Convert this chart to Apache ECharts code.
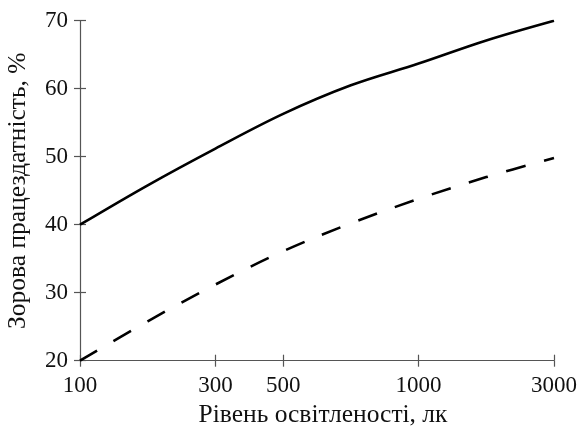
<!DOCTYPE html>
<html>
<head>
<meta charset="utf-8">
<script src="https://cdn.jsdelivr.net/npm/echarts@6/dist/echarts.min.js"></script>
<style>
html,body{margin:0;padding:0;background:#fff;}
#c{width:582px;height:428px;}
</style>
</head>
<body>
<div id="c"></div>
<script>
// Illumination levels (lx); only some carry labels
const categories = ['100', '200', '300', '500', '700', '1000', '2000', '3000'];
const shownLabels = ['100', '300', '500', '1000', '3000'];
// Visual performance, %
const solidSeries = [40, 45.8, 51.2, 56.3, 60.5, 63.7, 67.1, 70];
const dashedSeries = [20, 25.8, 31.2, 36.1, 40.2, 43.8, 47.0, 49.8];
const yMin = 20, yMax = 70, yStep = 10;

const FONT = '"Liberation Serif", "DejaVu Serif", serif';
const TEXT = '#111';
const AXIS = '#555';
const showIdx = (i) => shownLabels.indexOf(categories[i]) >= 0;

const chart = echarts.init(document.getElementById('c'), null, {renderer: 'canvas'});
chart.setOption({
  backgroundColor: '#fff',
  animation: false,
  grid: {left: 80, right: 28, top: 20.7, bottom: 67.3, containLabel: false, outerBoundsMode: 'none'},
  xAxis: [{
    type: 'category',
    data: categories,
    boundaryGap: false,
    name: 'Рівень освітленості, лк',
    nameLocation: 'middle',
    nameGap: 39,
    nameTextStyle: {fontFamily: FONT, fontSize: 25.5, color: TEXT, padding: [0, 0, 0, 12]},
    axisLine: {lineStyle: {color: AXIS, width: 1.2}},
    axisTick: {show: true, inside: false, length: 6, interval: (i) => showIdx(i), lineStyle: {color: AXIS, width: 1.2}},
    axisLabel: {interval: (i) => showIdx(i), margin: 14, fontFamily: FONT, fontSize: 23, color: TEXT},
    splitLine: {show: false}
  }, {
    type: 'category',
    data: categories,
    boundaryGap: false,
    position: 'bottom',
    axisLine: {show: false},
    axisTick: {show: true, inside: true, length: 6, interval: (i) => showIdx(i), lineStyle: {color: AXIS, width: 1.2}},
    axisLabel: {show: false},
    splitLine: {show: false}
  }],
  yAxis: [{
    type: 'value',
    min: yMin, max: yMax, interval: yStep,
    name: 'Зорова працездатність, %',
    nameLocation: 'middle',
    nameGap: 49,
    nameTextStyle: {fontFamily: FONT, fontSize: 25.5, color: TEXT},
    axisLine: {show: true, lineStyle: {color: AXIS, width: 1.2}},
    axisTick: {show: true, inside: false, length: 6, lineStyle: {color: AXIS, width: 1.2}},
    axisLabel: {margin: 12, fontFamily: FONT, fontSize: 23, color: TEXT},
    splitLine: {show: false}
  }, {
    type: 'value',
    min: yMin, max: yMax, interval: yStep,
    position: 'left',
    axisLine: {show: false},
    axisTick: {show: true, inside: true, length: 6, lineStyle: {color: AXIS, width: 1.2}},
    axisLabel: {show: false},
    splitLine: {show: false}
  }],
  series: [{
    type: 'line',
    data: solidSeries,
    smooth: 0.35,
    symbol: 'none',
    lineStyle: {color: '#000', width: 2.6, type: 'solid'}
  }, {
    type: 'line',
    data: dashedSeries,
    smooth: 0.35,
    symbol: 'none',
    lineStyle: {color: '#000', width: 2.6, type: [20, 19]}
  }]
});
</script>
</body>
</html>
